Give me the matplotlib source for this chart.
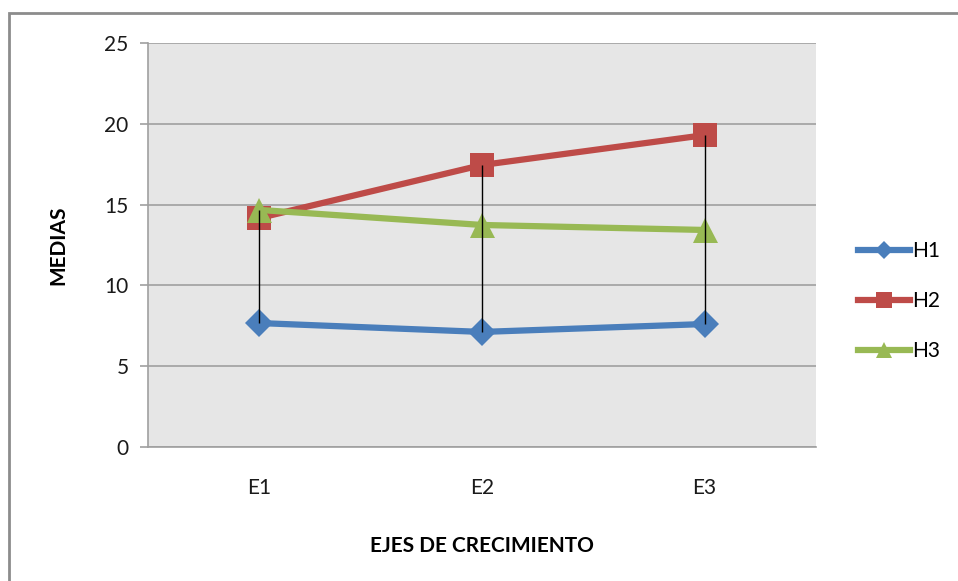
import matplotlib.pyplot as plt
from matplotlib.patches import Rectangle

# datos
categorias = ['E1', 'E2', 'E3']
h1 = [7.67, 7.12, 7.61]
h2 = [14.17, 17.45, 19.3]
h3 = [14.67, 13.74, 13.43]
series = ['H1', 'H2', 'H3']
colores = ['#4A7EBB', '#BE4B48', '#98B954']
marcadores = ['D', 's', '^']
tam_marcador = [14, 17, 18]

plt.rcParams['font.family'] = ['Lato', 'DejaVu Sans']

fig = plt.figure(figsize=(9.58, 5.81), dpi=100)
# borde exterior del area del grafico
fig.patches.append(Rectangle((9 / 958, -0.05), 1.2, 1 - 13 / 581 + 0.05,
                             transform=fig.transFigure, fill=False,
                             edgecolor='#8C8C8C', linewidth=2))

ax = fig.add_axes([148 / 958, 1 - 447 / 581, 668 / 958, 404 / 581])
ax.set_facecolor('#E6E6E6')

x = list(range(len(categorias)))
for nombre, valores, c, m, ms in zip(series, [h1, h2, h3], colores, marcadores, tam_marcador):
    ax.plot(x, valores, color=c, linewidth=4.5, marker=m, markersize=ms,
            markeredgewidth=0, label=nombre, zorder=3)

# lineas de maximos y minimos
mins = [min(v) for v in zip(h1, h2, h3)]
maxs = [max(v) for v in zip(h1, h2, h3)]
ax.vlines(x, mins, maxs, colors='black', linewidth=1, zorder=4)

ax.set_xlim(-0.5, 2.5)
ax.set_ylim(0, 25)
ax.set_yticks([0, 5, 10, 15, 20, 25])
ax.set_xticks(x)
ax.set_xticklabels(categorias)
ax.yaxis.grid(True, color='#A0A0A0', linewidth=1.2)
ax.set_axisbelow(True)

for s in ['top', 'right']:
    ax.spines[s].set_visible(False)
for s in ['left', 'bottom']:
    ax.spines[s].set_color('#A0A0A0')
    ax.spines[s].set_linewidth(1.2)

ax.tick_params(axis='y', length=6, color='#A0A0A0', width=1.2, labelsize=15,
               pad=8, labelcolor='#1A1A1A')
ax.tick_params(axis='x', length=0, labelsize=15, pad=22, labelcolor='#1A1A1A')

ax.set_ylabel('MEDIAS', fontsize=15, fontweight='bold', labelpad=26)
ax.set_xlabel('EJES DE CRECIMIENTO', fontsize=15, fontweight='bold', labelpad=28)

ax.legend(loc='center left', bbox_to_anchor=(1.035, 0.361), frameon=False,
          fontsize=15, handlelength=2.5, handletextpad=0.1, labelspacing=1.45,
          markerscale=0.65)

fig.savefig('out.png', dpi=100)
